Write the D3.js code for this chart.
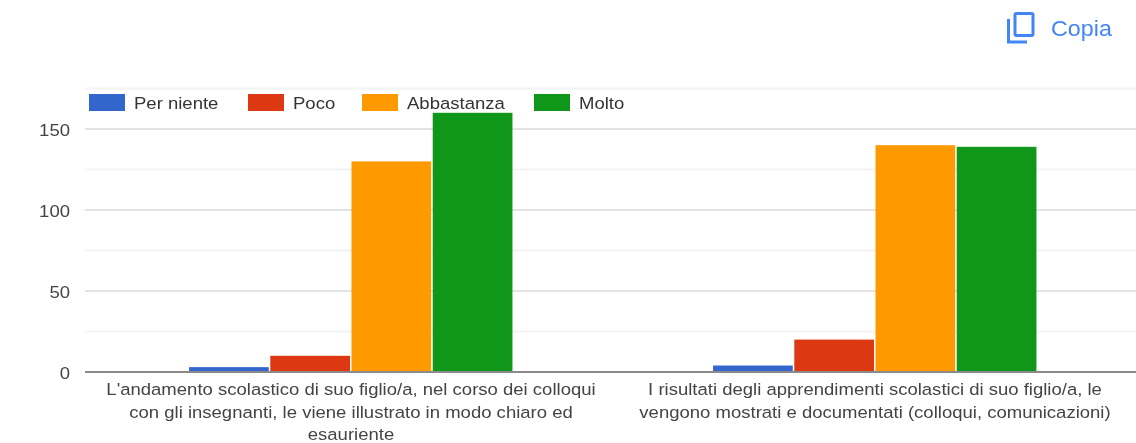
<!DOCTYPE html>
<html>
<head>
<meta charset="utf-8">
<script src="https://cdnjs.cloudflare.com/ajax/libs/d3/7.8.5/d3.min.js"></script>
<style>
html, body { margin: 0; padding: 0; background: #fff; }
svg { display: block; filter: blur(0.6px); }
text { font-family: "Liberation Sans", Arial, sans-serif; }
</style>
</head>
<body>
<script>
// values
var categories = [
  ["L'andamento scolastico di suo figlio/a, nel corso dei colloqui",
   "con gli insegnanti, le viene illustrato in modo chiaro ed",
   "esauriente"],
  ["I risultati degli apprendimenti scolastici di suo figlio/a, le",
   "vengono mostrati e documentati (colloqui, comunicazioni)"]
];
var seriesNames = ["Per niente", "Poco", "Abbastanza", "Molto"];
var seriesColors = ["#3366cc", "#dc3912", "#ff9900", "#109618"];
var group1 = [3, 10, 130, 160];
var group2 = [4, 20, 140, 139];
var majorTicks = [0, 50, 100, 150];
var minorTicks = [25, 75, 125, 175];
var legendX = [89, 248, 362, 534];

var values = [group1, group2];

//Width and height
var w = 1136;
var h = 443;
var stretch = 1.09;  // the screenshot is wider than it is tall, text too

var svg = d3.select("body")
            .append("svg")
            .attr("width", w)
            .attr("height", h);

var y = d3.scaleLinear().domain([0, 175]).range([372, 88.5]);

var x0 = d3.scaleBand()
           .domain(d3.range(categories.length))
           .range([89, 1137])
           .paddingInner(0.38)
           .paddingOuter(0.19);

var x1 = d3.scaleBand()
           .domain(d3.range(seriesNames.length))
           .range([0, x0.bandwidth()]);

// minor gridlines
svg.selectAll("line.minor")
   .data(minorTicks)
   .enter()
   .append("line")
   .attr("class", "minor")
   .attr("x1", 85)
   .attr("x2", w)
   .attr("y1", function(d) { return y(d); })
   .attr("y2", function(d) { return y(d); })
   .attr("stroke", "#f3f3f3")
   .attr("stroke-width", 2);

// y axis + major gridlines
var yAxis = d3.axisLeft(y)
              .tickValues(majorTicks)
              .tickSize(0)
              .tickPadding(0);

var yG = svg.append("g")
            .attr("transform", "translate(70,1)")
            .call(yAxis);
yG.select(".domain").remove();
yG.selectAll("text")
  .attr("font-size", "17px")
  .attr("transform", "scale(" + stretch + ",1)")
  .attr("fill", "#444");

svg.selectAll("line.major")
   .data(majorTicks.slice(1))
   .enter()
   .append("line")
   .attr("class", "major")
   .attr("x1", 85)
   .attr("x2", w)
   .attr("y1", function(d) { return y(d); })
   .attr("y2", function(d) { return y(d); })
   .attr("stroke", "#e3e3e3")
   .attr("stroke-width", 2);

// bars
var groups = svg.selectAll("g.group")
   .data(values)
   .enter()
   .append("g")
   .attr("class", "group")
   .attr("transform", function(d, i) { return "translate(" + x0(i) + ",0)"; });

groups.selectAll("rect")
   .data(function(d) { return d; })
   .enter()
   .append("rect")
   .attr("x", function(d, i) { return x1(i) + 0.5; })
   .attr("y", function(d) { return y(d); })
   .attr("width", x1.bandwidth() - 1.5)
   .attr("height", function(d) { return y(0) - y(d); })
   .attr("fill", function(d, i) { return seriesColors[i]; });

// baseline
svg.append("line")
   .attr("x1", 85)
   .attr("x2", w)
   .attr("y1", y(0))
   .attr("y2", y(0))
   .attr("stroke", "#8a8a8a")
   .attr("stroke-width", 2);

// category labels
var xLabels = svg.selectAll("text.cat")
   .data(categories)
   .enter()
   .append("text")
   .attr("class", "cat")
   .attr("text-anchor", "middle")
   .attr("font-size", "17px")
   .attr("fill", "#444")
   .attr("transform", function(d, i) {
     return "translate(" + (x0(i) + x0.bandwidth() / 2) + ",0) scale(" + stretch + ",1)";
   });

xLabels.selectAll("tspan")
   .data(function(d) { return d; })
   .enter()
   .append("tspan")
   .attr("x", 0)
   .attr("y", function(d, j) { return 395.5 + j * 22.5; })
   .text(function(d) { return d; });

// legend
var legend = svg.selectAll("g.legend")
   .data(seriesNames)
   .enter()
   .append("g")
   .attr("class", "legend")
   .attr("transform", function(d, i) { return "translate(" + legendX[i] + ",94)"; });

legend.append("rect")
   .attr("width", 36)
   .attr("height", 17)
   .attr("fill", function(d, i) { return seriesColors[i]; });

legend.append("text")
   .attr("font-size", "17px")
   .attr("fill", "#333")
   .attr("transform", "translate(45,15) scale(" + stretch + ",1)")
   .text(function(d) { return d; });

// copy button
var copia = svg.append("g")
   .attr("fill", "none")
   .attr("stroke", "#4285f4")
   .attr("stroke-width", 3);

copia.append("rect")
   .attr("x", 1015)
   .attr("y", 13.5)
   .attr("width", 18)
   .attr("height", 22)
   .attr("rx", 1.5);

copia.append("path")
   .attr("d", "M1008.5 19V42H1027");

svg.append("text")
   .attr("transform", "translate(1051,36) scale(1.06,1)")
   .attr("font-size", "22px")
   .attr("font-family", "Roboto, sans-serif")
   .attr("fill", "#4285f4")
   .text("Copia");
</script>
</body>
</html>
